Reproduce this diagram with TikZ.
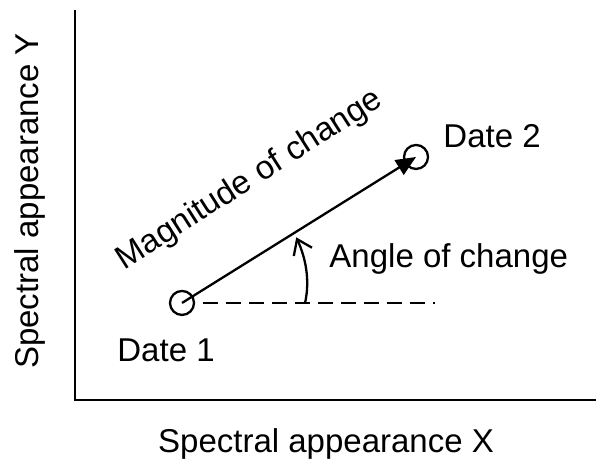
\documentclass[tikz,border=0pt]{standalone}
\usepackage{fontspec}
\setmainfont{Liberation Sans}
\usetikzlibrary{arrows.meta,calc,positioning}
\tikzset{
  axisline/.style={black, line width=1.25pt},
  vector/.style={black, -{Triangle[length=10pt,width=8.5pt]}, line width=1.15pt},
  guide/.style={black, dash pattern=on 7.5pt off 4pt, line width=1.1pt},
  anglearc/.style={black, -{Straight Barb[length=7pt,width=10pt]}, line width=1.15pt},
  datepoint/.style={circle, draw=black, line width=1.15pt, minimum size=12pt, inner sep=0pt},
  label/.style={font=\fontsize{16.5}{20}\selectfont, inner sep=0pt}
}
\begin{document}
\begin{tikzpicture}
  \useasboundingbox (0,0) rectangle (10.49,8.10);
  % axes
  \coordinate (O) at (1.318,1.072);
  \coordinate (ytop) at (1.318,7.925);
  \coordinate (xend) at (10.47,1.072);
  \draw[axisline] (ytop) -- (O) -- (xend);
  \node[label, rotate=90, anchor=base] (ylab) at (0.668,4.569) {Spectral appearance Y};
  \node[label, anchor=base] (xlab) at (5.729,0.158) {Spectral appearance X};
  % the two dates
  \node[datepoint] (d1) at (3.198,2.777) {};
  \node[datepoint] (d2) at (7.310,5.342) {};
  \node[label, anchor=base west] (d1lab) at (2.056,1.740) {Date 1};
  \node[label, anchor=base west] (d2lab) at (7.785,5.500) {Date 2};
  % change vector and reference line
  \coordinate (dashend) at (7.644,2.777);
  \draw[guide] ([xshift=0.37cm]d1.center) -- (dashend);
  \draw[vector] (d1.center) -- (d2.center);
  \node[label, rotate=32.5, anchor=base west] (maglab) at (2.18,3.35) {Magnitude of change};
  % angle
  \coordinate (arcstart) at (5.360,2.777);
  \coordinate (arcend) at (5.205,3.93);
  \draw[anglearc] (arcstart) .. controls (5.45,3.18) and (5.37,3.57) .. (arcend);
  \node[label, anchor=base west] (anglab) at (5.782,3.392) {Angle of change};
\end{tikzpicture}
\end{document}
